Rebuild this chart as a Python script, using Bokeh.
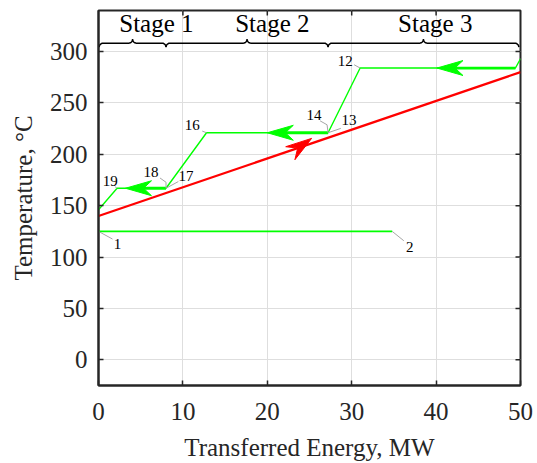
import math
import numpy as np
from bokeh.plotting import figure
from bokeh.models import Range1d, FixedTicker, Label, Arrow
from bokeh.core.properties import value
from bokeh.embed import file_html
from bokeh.resources import INLINE

# ---------------- data ----------------
x_ticks = [0, 10, 20, 30, 40, 50]
y_ticks = [0, 50, 100, 150, 200, 250, 300]

cold_x = [0.0, 34.8]
cold_y = [125.0, 125.0]

red_x = [0.0, 50.0]
red_y = [140.0, 280.0]
red_arrow_x = 23.6

hot_x = [50.0, 49.4, 31.0, 27.2, 12.8, 8.0, 2.2, 0.0]
hot_y = [293.0, 284.0, 284.0, 221.0, 221.0, 167.0, 167.0, 146.0]
hot_arrow_start = [1, 3, 5]
hot_arrow_tip_x = [40.1, 20.0, 3.2]

label_names = ["1", "2", "12", "13", "14", "16", "17", "18", "19"]
label_x = [0.0, 34.8, 31.0, 27.2, 27.2, 12.8, 8.0, 8.0, 2.2]
label_y = [125.0, 125.0, 284.0, 221.0, 221.0, 221.0, 167.0, 167.0, 167.0]
edge_name = "11"
edge_x, edge_y = 50.0, 293.0

stage_names = ["Stage 1", "Stage 2", "Stage 3"]
stage_bounds = [0.0, 8.0, 27.2, 50.0]
stage_label_x = [6.86, 20.6, 39.9]

# ---------------- layout ----------------
W, H = 537, 463
BL, BR, BT, BB = 98, 17, 10, 76
XR = (0.0, 50.0)
YR = (-25.0, 340.0)
sx = (W - BL - BR) / (XR[1] - XR[0])
sy = (H - BT - BB) / (YR[1] - YR[0])
FONT = "Liberation Serif"
INK = "#262626"
LIME = "#00ff00"
RED = "#ff0000"
LEAD = "#a6a6a6"


def off(x, y, dx, dy):
    """pixel offset (dx right, dy down) -> data coordinates"""
    return x + dx / sx, y - dy / sy


p = figure(width=W, height=H, x_range=Range1d(*XR), y_range=Range1d(*YR),
           output_backend="svg", toolbar_location=None,
           min_border_left=BL, min_border_right=BR,
           min_border_top=BT, min_border_bottom=BB)
p.background_fill_color = "white"
p.border_fill_color = "white"
p.outline_line_color = INK
p.outline_line_width = 2

for ax in (p.xaxis, p.yaxis):
    ax.major_tick_in = 5
    ax.major_tick_out = 0
    ax.minor_tick_line_color = None
    ax.major_tick_line_color = INK
    ax.major_tick_line_width = 1.5
    ax.axis_line_color = INK
    ax.axis_line_width = 2
    ax.major_label_text_font = FONT
    ax.major_label_text_font_size = "25px"
    ax.major_label_text_color = INK
    ax.axis_label_text_font = FONT
    ax.axis_label_text_font_size = "25px"
    ax.axis_label_text_font_style = "normal"
    ax.axis_label_text_color = INK

p.xaxis.ticker = FixedTicker(ticks=x_ticks)
p.yaxis.ticker = FixedTicker(ticks=y_ticks)
p.xaxis.axis_label = "Transferred Energy, MW"
p.yaxis.axis_label = "Temperature, \u00b0C"
p.xaxis.major_label_standoff = 17
p.yaxis.major_label_standoff = 11
p.xaxis.axis_label_standoff = 11
p.yaxis.axis_label_standoff = 10

p.xgrid.ticker = FixedTicker(ticks=x_ticks[1:-1])
p.ygrid.ticker = FixedTicker(ticks=y_ticks)
for g in (p.xgrid, p.ygrid):
    g.grid_line_color = "#dedede"
    g.grid_line_width = 1

# mirrored inward ticks on right and top
p.segment(x0=[XR[1]] * len(y_ticks), y0=y_ticks,
          x1=[XR[1] - 5 / sx] * len(y_ticks), y1=y_ticks,
          line_color=INK, line_width=1.5)
tx = x_ticks[1:-1]
p.segment(x0=tx, y0=[YR[1]] * len(tx), x1=tx, y1=[YR[1] - 5 / sy] * len(tx),
          line_color=INK, line_width=1.5)

# ---------------- streams ----------------
p.line(cold_x, cold_y, line_color=LIME, line_width=1.8)
p.line(red_x, red_y, line_color=RED, line_width=2.2)
p.line(hot_x, hot_y, line_color=LIME, line_width=1.4)


def head(tx_, ty_, ang, L, Wd, N):
    a = math.radians(ang)
    ux, uy = math.cos(a), math.sin(a)
    nx, ny = -uy, ux
    pts = [(0, 0), (-L * ux + Wd / 2 * nx, -L * uy + Wd / 2 * ny),
           (-N * ux, -N * uy), (-L * ux - Wd / 2 * nx, -L * uy - Wd / 2 * ny)]
    return [tx_ + q[0] / sx for q in pts], [ty_ + q[1] / sy for q in pts]


hx, hy = [], []
for i, tip in zip(hot_arrow_start, hot_arrow_tip_x):
    yy = hot_y[i]
    p.segment(x0=[hot_x[i]], y0=[yy], x1=[tip + 18 / sx], y1=[yy],
              line_color=LIME, line_width=2.8)
    xs_, ys_ = head(tip, yy, 180, 26, 15, 18)
    hx.append(xs_)
    hy.append(ys_)
p.patches(hx, hy, fill_color=LIME, line_color=LIME, line_width=1)

# red arrow head
ang = 35
ny_line = np.interp(red_arrow_x, red_x, red_y)
rtx = red_arrow_x + 17 * math.cos(math.radians(ang)) / sx
rty = ny_line + 17 * math.sin(math.radians(ang)) / sy
rxs, rys = head(rtx, rty, ang, 26, 16, 17)
p.patch(rxs, rys, fill_color=RED, line_color=RED, line_width=1)

# ---------------- point labels ----------------
leader_px = {
    "1": [(0, 0), (14, 7.7)],
    "2": [(0, 0), (11.6, 9.4)],
    "12": [(0, 0), (-6, -3.3)],
    "13": [(0, 0), (12.7, -4.4)],
    "14": [(0, 0), (-1, -8), (-8, -12)],
    "16": [(0, 0), (-4.3, -1.7)],
    "17": [(0, 0), (12.3, -6.7)],
    "18": [(0, 0), (0, -6), (-6, -10.3)],
    "19": [(0, 0), (-2, -1.5)],
}
text_px = {
    "1": (19, 12.7), "2": (17.6, 16), "12": (-15, -6.6), "13": (21, -12.4),
    "14": (-14, -17.4), "16": (-14.3, -7.4), "17": (20, -12.3),
    "18": (-15, -16.3), "19": (-6.7, -7.3),
}
lxs, lys, txs, tys = [], [], [], []
for nm, x0, y0 in zip(label_names, label_x, label_y):
    path = [off(x0, y0, dx, dy) for dx, dy in leader_px[nm]]
    lxs.append([q[0] for q in path])
    lys.append([q[1] for q in path])
    tx_, ty_ = off(x0, y0, *text_px[nm])
    txs.append(tx_)
    tys.append(ty_)
p.multi_line(lxs, lys, line_color=LEAD, line_width=1)
p.text(txs, tys, text=label_names, text_font=value(FONT),
       text_font_size="15px", text_align="center", text_baseline="middle",
       text_color="black")

ex, ey = off(edge_x, edge_y, 10, -2.7)
p.add_layout(Arrow(end=None, x_start=edge_x, y_start=edge_y, x_end=ex, y_end=ey,
                   line_color=LEAD, line_width=1))
p.add_layout(Label(x=edge_x, y=edge_y, x_offset=16, text=edge_name,
                   text_font=FONT, text_font_size="15px",
                   text_baseline="middle", text_align="left", text_color="black"))

# ---------------- stage braces ----------------
yb = 308.2
rx, ry = 4 / sx, 4 / sy
t = np.linspace(0, math.pi / 2, 8)
bxs, bys = [], []
for k in range(len(stage_names)):
    xa = stage_bounds[k] + (0.08 if k == 0 else 0.0)
    xb = stage_bounds[k + 1] - (0.2 if k == len(stage_names) - 1 else 0.0)
    xm = (xa + xb) / 2
    X = np.concatenate([xa + rx - rx * np.cos(t), xm - rx + rx * np.sin(t),
                        xm + rx - rx * np.cos(t), xb - rx + rx * np.sin(t)])
    Y = np.concatenate([yb - ry + ry * np.sin(t), yb + ry - ry * np.cos(t),
                        yb + ry - ry * np.sin(t), yb - ry + ry * np.cos(t)])
    bxs.append(list(X))
    bys.append(list(Y))
p.multi_line(bxs, bys, line_color="black", line_width=1.5)
p.text(stage_label_x, [327.0] * 3, text=stage_names, text_font=value(FONT),
       text_font_size="25px", text_align="center", text_baseline="middle",
       text_color="black")

open("out.html", "w").write(file_html(p, INLINE))
